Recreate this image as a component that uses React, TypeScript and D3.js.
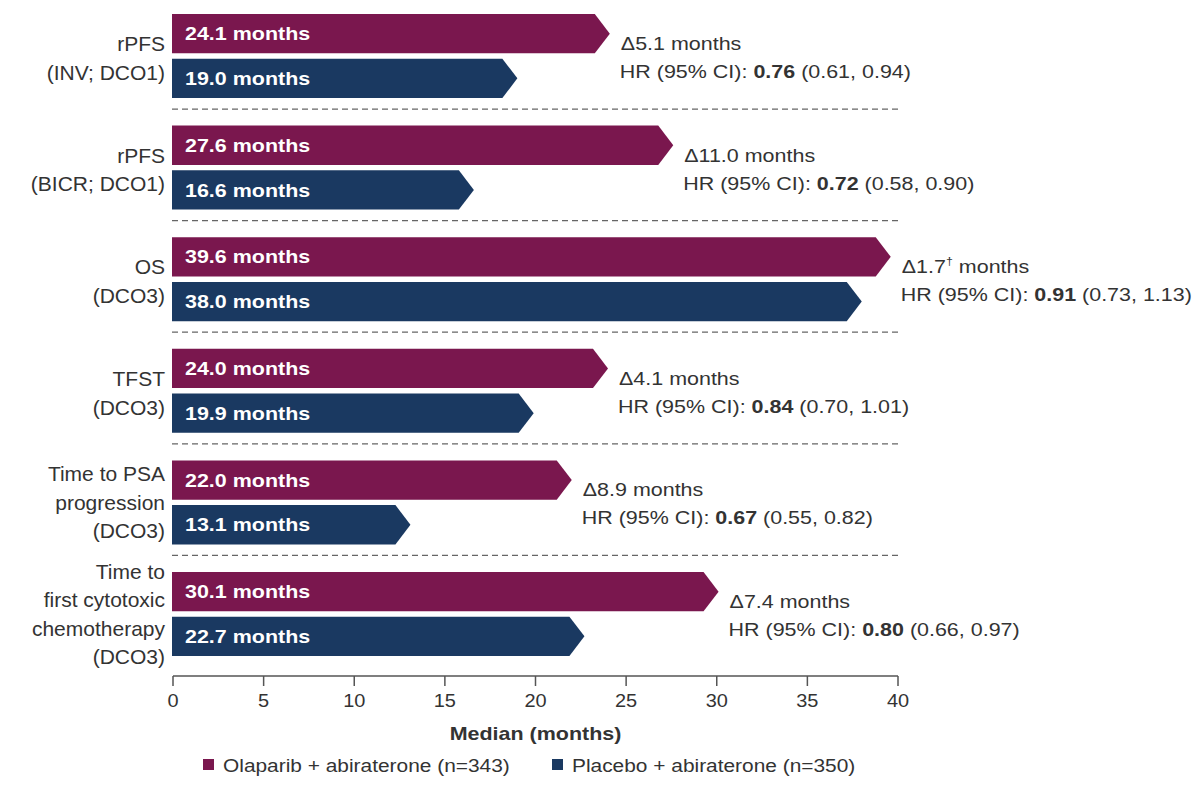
import React from "react";
import * as d3 from "d3";

const categories: string[][] = [
  ["rPFS", "(INV; DCO1)"],
  ["rPFS", "(BICR; DCO1)"],
  ["OS", "(DCO3)"],
  ["TFST", "(DCO3)"],
  ["Time to PSA", "progression", "(DCO3)"],
  ["Time to", "first cytotoxic", "chemotherapy", "(DCO3)"],
];
const olaparib: number[] = [24.1, 27.6, 39.6, 24.0, 22.0, 30.1];
const placebo: number[] = [19.0, 16.6, 38.0, 19.9, 13.1, 22.7];
const deltas: string[] = ["5.1", "11.0", "1.7", "4.1", "8.9", "7.4"];
const deltaDagger: boolean[] = [false, false, true, false, false, false];
const hrValues: string[] = ["0.76", "0.72", "0.91", "0.84", "0.67", "0.80"];
const hrCI: string[] = ["(0.61, 0.94)", "(0.58, 0.90)", "(0.73, 1.13)", "(0.70, 1.01)", "(0.55, 0.82)", "(0.66, 0.97)"];
const xTicks: number[] = [0, 5, 10, 15, 20, 25, 30, 35, 40];
const seriesNames: string[] = ["Olaparib + abiraterone (n=343)", "Placebo + abiraterone (n=350)"];

const MAGENTA = "#7a174e";
const NAVY = "#1a3961";
const TEXT = "#333333";
const FONT = "'Liberation Sans', Arial, Helvetica, sans-serif";
const SX = 1.13;

export default function App() {
  const x = d3.scaleLinear().domain([0, 40]).range([173, 898]);
  const ids = categories.map((_, i) => String(i));
  const y = d3.scaleBand<string>().domain(ids).range([14, 656]).paddingInner(0.247).paddingOuter(0);
  const sub = d3.scaleBand<string>().domain(["ola", "pla"]).range([0, y.bandwidth()]).paddingInner(0.12);
  const bh = sub.bandwidth();
  const tip = 15;

  const arrow = (v: number, top: number) => {
    const x0 = x(0) - 1;
    const x1 = x(v);
    const p = d3.path();
    p.moveTo(x0, top);
    p.lineTo(x1 - tip, top);
    p.lineTo(x1, top + bh / 2);
    p.lineTo(x1 - tip, top + bh);
    p.lineTo(x0, top + bh);
    p.closePath();
    return p.toString();
  };

  const axisY = 676;

  return (
    <svg width={1200} height={796} style={{ position: "absolute", left: 0, top: 0, background: "#fff" }} fontFamily={FONT}>
      <rect x={0} y={0} width={1200} height={796} fill="#fff" />
      {ids.map((id, i) => {
        const top = y(id)!;
        const yo = top + sub("ola")!;
        const yp = top + sub("pla")!;
        const mid = top + y.bandwidth() / 2 + (categories[i].length <= 2 ? 2 : 0);
        const lines = categories[i];
        const lh = 28.5;
        const ax = x(olaparib[i]) + 11;
        return (
          <g key={id}>
            <path d={arrow(olaparib[i], yo)} fill={MAGENTA} />
            <path d={arrow(placebo[i], yp)} fill={NAVY} />
            <text transform={`translate(185,${yo + bh / 2}) scale(${SX},1)`} fill="#fff" fontWeight="bold" fontSize={19} dominantBaseline="central">
              {olaparib[i].toFixed(1)} months
            </text>
            <text transform={`translate(185,${yp + bh / 2}) scale(${SX},1)`} fill="#fff" fontWeight="bold" fontSize={19} dominantBaseline="central">
              {placebo[i].toFixed(1)} months
            </text>
            {lines.map((ln, k) => (
              <text key={k} x={165} y={mid + (k - (lines.length - 1) / 2) * lh} textAnchor="end" dominantBaseline="central" fontSize={21} fill={TEXT}>
                {ln}
              </text>
            ))}
            <text transform={`translate(${ax},${top + 36}) scale(${SX},1)`} fontSize={19} fill={TEXT}>
              {"Δ" + deltas[i]}
              {deltaDagger[i] ? (
                <tspan fontSize={11} dy={-8}>†</tspan>
              ) : null}
              {deltaDagger[i] ? <tspan dy={8}> months</tspan> : " months"}
            </text>
            <text transform={`translate(${ax - 1},${top + 64}) scale(${SX},1)`} fontSize={19} fill={TEXT}>
              {"HR (95% CI): "}
              <tspan fontWeight="bold">{hrValues[i]}</tspan>
              {" " + hrCI[i]}
            </text>
            {i < ids.length - 1 ? (
              <line x1={172} x2={898} y1={top + y.bandwidth() + 11} y2={top + y.bandwidth() + 11} stroke="#666" strokeWidth={1.3} strokeDasharray="6,4" />
            ) : null}
          </g>
        );
      })}
      <line x1={x(0)} x2={x(40)} y1={axisY} y2={axisY} stroke="#555" strokeWidth={1.5} />
      {xTicks.map((t) => (
        <g key={t}>
          <line x1={x(t)} x2={x(t)} y1={axisY} y2={axisY + 10} stroke="#555" strokeWidth={1.5} />
          <text transform={`translate(${x(t)},${axisY + 24}) scale(1.05,1)`} textAnchor="middle" dominantBaseline="central" fontSize={19} fill={TEXT}>
            {t}
          </text>
        </g>
      ))}
      <text transform={`translate(${(x(0) + x(40)) / 2},${733}) scale(${SX},1)`} textAnchor="middle" dominantBaseline="central" fontSize={19} fontWeight="bold" fill={TEXT}>
        Median (months)
      </text>
      <rect x={203} y={759} width={11} height={11} fill={MAGENTA} />
      <text transform={`translate(223,${765}) scale(${SX},1)`} dominantBaseline="central" fontSize={18.5} fill={TEXT}>
        {seriesNames[0]}
      </text>
      <rect x={552} y={759} width={11} height={11} fill={NAVY} />
      <text transform={`translate(572,${765}) scale(${SX},1)`} dominantBaseline="central" fontSize={18.5} fill={TEXT}>
        {seriesNames[1]}
      </text>
    </svg>
  );
}
